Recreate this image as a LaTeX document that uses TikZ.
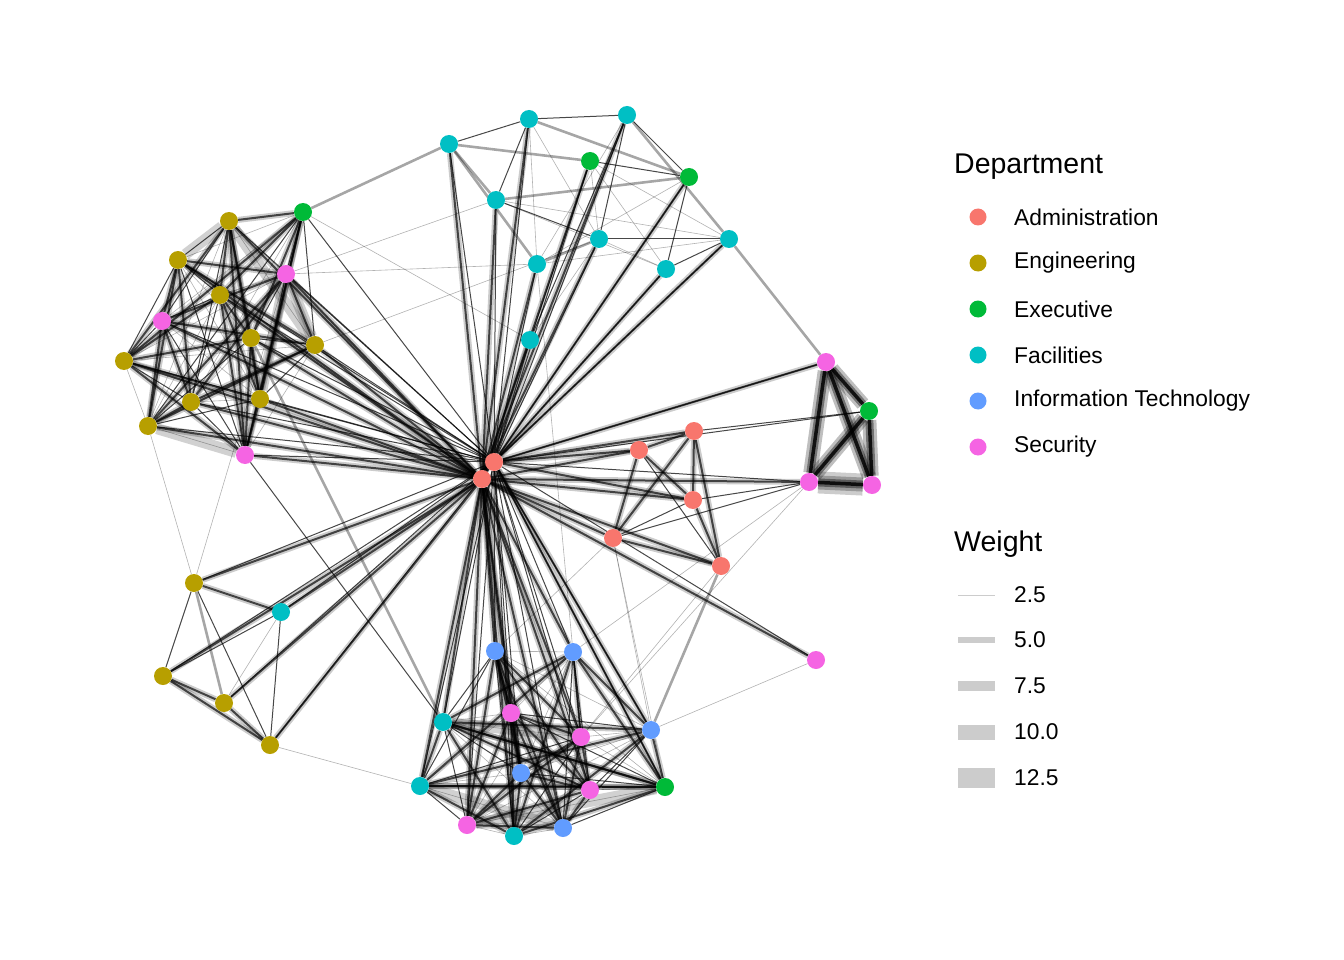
\documentclass[tikz,border=0pt]{standalone}
\usepackage{fontspec}
\setmainfont{Liberation Sans}
\pgfdeclarelayer{edges}
\pgfsetlayers{edges,main}
\definecolor{cAdm}{HTML}{F8766D}
\definecolor{cEng}{HTML}{B79F00}
\definecolor{cExe}{HTML}{00BA38}
\definecolor{cFac}{HTML}{00BFC4}
\definecolor{cIT}{HTML}{619CFF}
\definecolor{cSec}{HTML}{F564E3}
\definecolor{keygray}{HTML}{CCCCCC}
\tikzset{
  nd/.style={circle,inner sep=0pt,minimum size=18pt,draw=none},
  lg/.style={circle,inner sep=0pt,minimum size=17pt,draw=none},
  lt/.style={draw=black,draw opacity=0.3,line width=0.6pt},
  dk/.style={draw=black,draw opacity=0.72,line width=1pt},
  gm/.style={draw=black,draw opacity=0.35,line width=2.6pt},
  gw/.style={draw=black,draw opacity=0.18,line width=11pt},
  hv/.style={preaction={draw=black,draw opacity=0.2,line width=6pt},draw=black,draw opacity=0.68,line width=2pt},
  hx/.style={preaction={draw=black,draw opacity=0.25,line width=14pt},preaction={draw=black,draw opacity=0.4,line width=8pt},draw=black,draw opacity=0.85,line width=3.5pt},
  st0/.style={hv}, st1/.style={dk}, st2/.style={hv}, st3/.style={lt},
  txt/.style={anchor=west,inner sep=0pt,font=\fontsize{22.8}{27}\selectfont},
  ttl/.style={anchor=west,inner sep=0pt,font=\fontsize{28.5}{33}\selectfont},
}
\begin{document}
\begin{tikzpicture}[x=1pt,y=-1pt]
\useasboundingbox (0,0) rectangle (1344,960);
% ---------- nodes ----------
% upper-left cluster
\node[nd,fill=cEng] (E1) at (229,221) {};
\node[nd,fill=cEng] (E2) at (178,260) {};
\node[nd,fill=cExe] (X1) at (303,212) {};
\node[nd,fill=cSec] (S1) at (286,274) {};
\node[nd,fill=cEng] (E3) at (220,295) {};
\node[nd,fill=cSec] (S2) at (162,321) {};
\node[nd,fill=cEng] (E4) at (251,338) {};
\node[nd,fill=cEng] (E5) at (315,345) {};
\node[nd,fill=cEng] (E6) at (124,361) {};
\node[nd,fill=cEng] (E7) at (191,402) {};
\node[nd,fill=cEng] (E8) at (260,399) {};
\node[nd,fill=cEng] (E9) at (148,426) {};
\node[nd,fill=cSec] (S3) at (245,455) {};
% top cluster
\node[nd,fill=cFac] (F1) at (449,144) {};
\node[nd,fill=cFac] (F2) at (529,119) {};
\node[nd,fill=cFac] (F3) at (627,115) {};
\node[nd,fill=cExe] (X2) at (590,161) {};
\node[nd,fill=cExe] (X3) at (689,177) {};
\node[nd,fill=cFac] (F4) at (496,200) {};
\node[nd,fill=cFac] (F5) at (599,239) {};
\node[nd,fill=cFac] (F6) at (729,239) {};
\node[nd,fill=cFac] (F7) at (537,264) {};
\node[nd,fill=cFac] (F8) at (666,269) {};
\node[nd,fill=cFac] (F9) at (530,340) {};
% administration
\node[nd,fill=cAdm] (A1) at (494,462) {};
\node[nd,fill=cAdm] (A2) at (482,479) {};
\node[nd,fill=cAdm] (A3) at (639,450) {};
\node[nd,fill=cAdm] (A4) at (694,431) {};
\node[nd,fill=cAdm] (A5) at (693,500) {};
\node[nd,fill=cAdm] (A6) at (613,538) {};
\node[nd,fill=cAdm] (A7) at (721,566) {};
% right cluster
\node[nd,fill=cSec] (S4) at (826,362) {};
\node[nd,fill=cExe] (X4) at (869,411) {};
\node[nd,fill=cSec] (S5) at (809,482) {};
\node[nd,fill=cSec] (S6) at (872,485) {};
\node[nd,fill=cSec] (S7) at (816,660) {};
% lower-left cluster
\node[nd,fill=cEng] (E10) at (194,583) {};
\node[nd,fill=cFac] (F10) at (281,612) {};
\node[nd,fill=cEng] (E11) at (163,676) {};
\node[nd,fill=cEng] (E12) at (224,703) {};
\node[nd,fill=cEng] (E13) at (270,745) {};
% bottom cluster
\node[nd,fill=cIT]  (I1) at (495,651) {};
\node[nd,fill=cIT]  (I2) at (573,652) {};
\node[nd,fill=cSec] (S8) at (511,713) {};
\node[nd,fill=cFac] (F11) at (443,722) {};
\node[nd,fill=cSec] (S9) at (581,737) {};
\node[nd,fill=cIT]  (I3) at (651,730) {};
\node[nd,fill=cIT]  (I4) at (521,773) {};
\node[nd,fill=cFac] (F12) at (420,786) {};
\node[nd,fill=cSec] (S10) at (590,790) {};
\node[nd,fill=cExe] (X5) at (665,787) {};
\node[nd,fill=cSec] (S11) at (467,825) {};
\node[nd,fill=cFac] (F13) at (514,836) {};
\node[nd,fill=cIT]  (I5) at (563,828) {};
% ---------- edges ----------
\begin{pgfonlayer}{edges}
% wide light bands (heavy weights)
\foreach \a/\b in {E1/E5,S1/E5,E9/S3,E2/E1,S1/E8,F11/S9,S11/X5,F12/I5}
  \draw[gw] (\a) -- (\b);
% dense clusters
\foreach \a [count=\i] in {E1,E2,X1,S1,E3,S2,E4,E5,E6,E7,E8,E9,S3}{
  \foreach \b [count=\j] in {E1,E2,X1,S1,E3,S2,E4,E5,E6,E7,E8,E9,S3}{
    \ifnum\j>\i
      \pgfmathtruncatemacro\r{mod(\i*7+\j*3,4)}
      \draw[st\r] (\a) -- (\b);
    \fi
  }
}
\foreach \a [count=\i] in {I1,I2,S8,F11,S9,I3,I4,F12,S10,X5,S11,F13,I5}{
  \foreach \b [count=\j] in {I1,I2,S8,F11,S9,I3,I4,F12,S10,X5,S11,F13,I5}{
    \ifnum\j>\i
      \pgfmathtruncatemacro\r{mod(\i*5+\j*3,4)}
      \draw[st\r] (\a) -- (\b);
    \fi
  }
}
\foreach \a/\b in {I1/S8,S8/I4,I4/F13,S8/F13,I2/S9,F11/X5,F12/X5,F11/S10}
  \draw[hv] (\a) -- (\b);
% hub edges
\foreach \b in {E1,E2,S1,E3,S2,E4,E5,E6,E7,E8,E9,S3,F1,F2,F3,X2,F4,F5,F7,F9,E10,F10,E11,E12,E13,I1,I2,S8,F11,S9,I4,F12,S10,S11,F13,I5,A5,A6,A7,S5,S7}
  \draw[hv] (A2) -- (\b);
\foreach \b in {E1,E2,X1,S1,E3,S2,E4,E5,E6,E7,E8,E9,S3,F1,F2,F3,X2,X3,F4,F5,F6,F7,F8,F9,E10,F10,E11,E12,E13,I1,I2,S8,F11,S9,I3,I4,F12,S10,X5,S11,F13,I5,S4,X4,S5,S7}
  \draw[dk] (A1) -- (\b);
\foreach \b in {A3,A4,X3,F6,F8,X5,I3,S4}
  \draw[hv] (A1) -- (\b);
\draw[dk] (A1) -- (A2);
% administration
\foreach \a/\b in {A3/A4,A3/A5,A4/A5,A4/A6,A4/A7,A5/A7,A6/A7,A3/A6,A1/A5,A2/A3}
  \draw[hv] (\a) -- (\b);
\foreach \a/\b in {A6/A5,A3/A7,A4/X4,A6/S5}
  \draw[dk] (\a) -- (\b);
% right cluster
\foreach \a/\b in {S4/X4,S4/S5,S4/S6,X4/S5,X4/S6}
  \draw[hx] (\a) -- (\b);
\draw[hx,preaction={draw=black,draw opacity=0.2,line width=22pt}] (S5) -- (S6);
% top cluster
\foreach \a/\b in {F1/F2,F2/F3,F3/X3,F4/F5,X2/X3,F5/F6,F4/F2,F9/X2,F9/F3,F8/F6,F3/F5,X3/F8}
  \draw[dk] (\a) -- (\b);
\foreach \a/\b in {F1/X2,F2/X3,F1/F4,F4/X3,F7/F5,F3/F6,F1/F7}
  \draw[gm] (\a) -- (\b);
\foreach \a/\b in {F4/F8,X2/F5,X2/F8,F5/F8,F7/F2,F7/F6,F3/F7,X3/F7,F2/F5,X2/F6,F4/F6,F9/F5}
  \draw[lt] (\a) -- (\b);
% lower-left cluster
\foreach \a/\b in {E10/F10,E11/E12,E11/E13,E12/E13}
  \draw[hv] (\a) -- (\b);
\draw[gm] (E10) -- (E12);
\foreach \a/\b in {E10/E11,E10/E13,F10/E13,F10/E11}
  \draw[dk] (\a) -- (\b);
\draw[lt] (F10) -- (E12);
% cross-cluster edges
\foreach \a/\b in {X1/F1,F6/S4,A7/I3,E4/F11}
  \draw[gm] (\a) -- (\b);
\foreach \a/\b in {E9/E10,E10/S1,S7/I3,A6/I3,S5/I2,S5/S9,S1/F4,S1/F7,E5/F5,X1/F9,A6/I1,A7/S9,F7/I2,E13/F12,A6/X5}
  \draw[lt] (\a) -- (\b);
\foreach \a/\b in {S3/F11,X1/S3,A5/S5}
  \draw[dk] (\a) -- (\b);
\end{pgfonlayer}
% ---------- legend ----------
\node[ttl] (tdep) at (954,167) {Department};
\node[lg,fill=cAdm] (l1) at (978,217) {};
\node[lg,fill=cEng] (l2) at (978,263) {};
\node[lg,fill=cExe] (l3) at (978,309) {};
\node[lg,fill=cFac] (l4) at (978,355) {};
\node[lg,fill=cIT]  (l5) at (978,401) {};
\node[lg,fill=cSec] (l6) at (978,447) {};
\node[txt] (t1) at (1014,217) {Administration};
\node[txt] (t2) at (1014,263) {Engineering};
\node[txt] (t3) at (1014,309) {Executive};
\node[txt] (t4) at (1014,355) {Facilities};
\node[txt] (t5) at (1014,401) {Information Technology};
\node[txt] (t6) at (1014,447) {Security};
\node[ttl] (twt) at (954,544) {Weight};
\foreach \y/\w/\lab in {595/0.6/2.5, 640/6/5.0, 686/10/7.5, 732/15/10.0, 778/20/12.5}{
  \draw[keygray,line width=\w pt] (958,\y) -- (995,\y);
  \node[txt] at (1014,\y) {\lab};
}
\end{tikzpicture}
\end{document}
